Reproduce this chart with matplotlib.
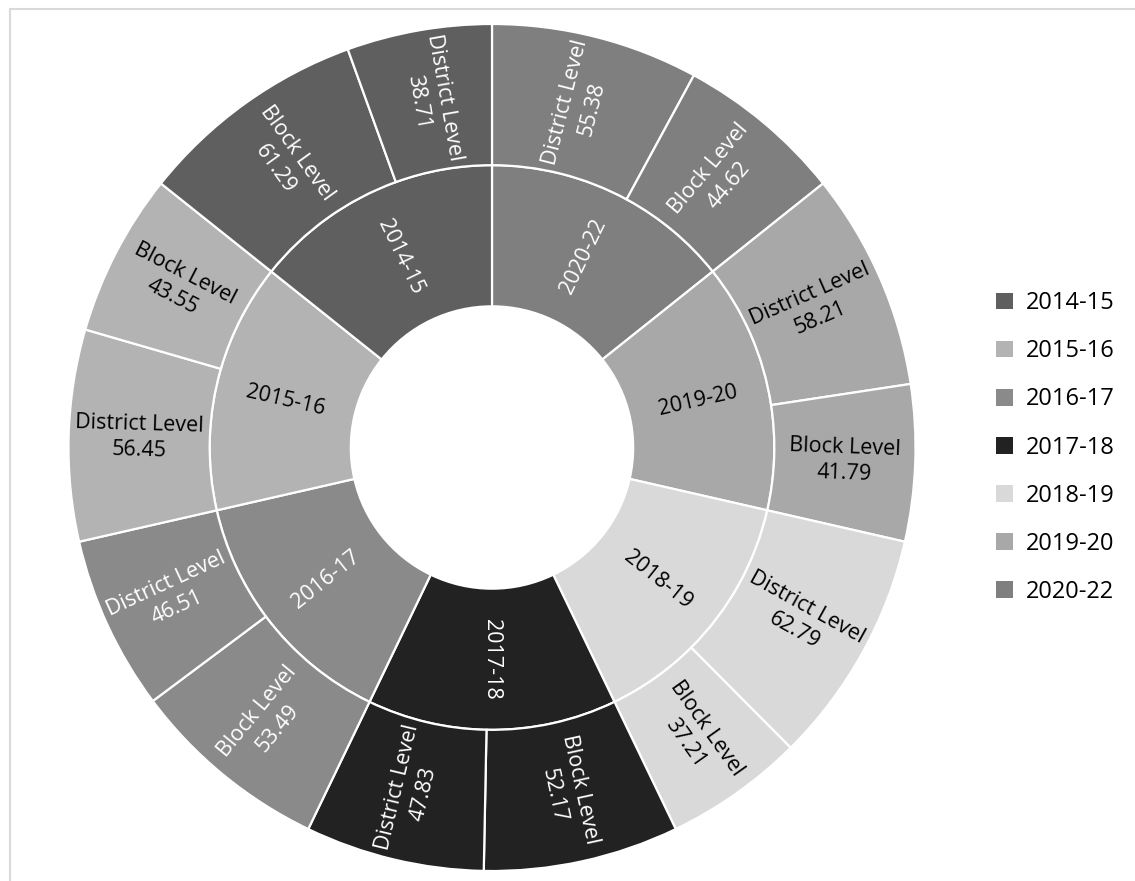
import numpy as np
import matplotlib
matplotlib.use("Agg")
import matplotlib.pyplot as plt
from matplotlib.patches import Patch, Rectangle

plt.rcParams["font.family"] = ["Open Sans", "DejaVu Sans"]

# data
years = ["2014-15", "2015-16", "2016-17", "2017-18", "2018-19", "2019-20", "2020-22"]
block_level = [61.29, 43.55, 53.49, 52.17, 37.21, 41.79, 44.62]
district_level = [38.71, 56.45, 46.51, 47.83, 62.79, 58.21, 55.38]
year_colors = ["#5f5f5f", "#b3b3b3", "#8a8a8a", "#222222", "#d9d9d9", "#a8a8a8", "#7f7f7f"]
text_colors = ["white", "black", "white", "white", "black", "black", "white"]


def text_rotation(angle):
    angle = angle % 360
    if 90 < angle < 270:
        return angle - 180
    if angle >= 270:
        return angle - 360
    return angle


W, H = 1135, 881
fig = plt.figure(figsize=(W / 100, H / 100), dpi=100)

# pie axes: centre (492, 447.5) px, outer radius 423.5 px
R = 423.5
ax = fig.add_axes([(492 - R) / W, (H - 447.5 - R) / H, 2 * R / W, 2 * R / H])

# sunburst drawn clockwise from 12 o'clock, last year first
order = list(range(len(years)))[::-1]
inner_vals = [block_level[i] + district_level[i] for i in order]
inner_cols = [year_colors[i] for i in order]

outer_vals, outer_cols, outer_labels, outer_tc = [], [], [], []
for i in order:
    kids = [("Block Level", block_level[i]), ("District Level", district_level[i])]
    kids.sort(key=lambda k: -k[1])
    for name, v in kids:
        outer_vals.append(v)
        outer_cols.append(year_colors[i])
        outer_labels.append(f"{name}\n{v:.2f}")
        outer_tc.append(text_colors[i])

wp = dict(width=1 / 3, edgecolor="white", linewidth=1.6)
inner_wedges, _ = ax.pie(inner_vals, radius=2 / 3, colors=inner_cols, startangle=90,
                         counterclock=False, wedgeprops=wp)
outer_wedges, _ = ax.pie(outer_vals, radius=1, colors=outer_cols, startangle=90,
                         counterclock=False, wedgeprops=wp)

for w, i in zip(inner_wedges, order):
    mid = (w.theta1 + w.theta2) / 2
    x, y = 0.5 * np.cos(np.radians(mid)), 0.5 * np.sin(np.radians(mid))
    ax.text(x, y, years[i], ha="center", va="center", fontsize=15.5,
            color=text_colors[i], rotation=text_rotation(mid), rotation_mode="anchor")

for w, lab, tc in zip(outer_wedges, outer_labels, outer_tc):
    mid = (w.theta1 + w.theta2) / 2
    x, y = (5 / 6) * np.cos(np.radians(mid)), (5 / 6) * np.sin(np.radians(mid))
    ax.text(x, y, lab, ha="center", va="center", fontsize=15.5, color=tc,
            linespacing=1.35, multialignment="center",
            rotation=text_rotation(mid), rotation_mode="anchor")

ax.set_xlim(-1, 1)
ax.set_ylim(-1, 1)
ax.set_aspect("equal")
ax.axis("off")

handles = [Patch(facecolor=c, edgecolor="none") for c in year_colors]
fig.legend(handles, years, loc="center left", bbox_to_anchor=(996 / W, 1 - 447.5 / H),
           frameon=False, fontsize=17, handlelength=0.72, handleheight=0.72,
           handletextpad=0.55, labelspacing=1.02, borderpad=0, borderaxespad=0)

# chart area border (only top and left edges fall inside the picture)
fig.patches.append(Rectangle((10 / W, -0.1), 1.2, 1.1 - 8.5 / H, transform=fig.transFigure,
                             fill=False, edgecolor="#d9d9d9", linewidth=1.5))

fig.savefig("out.png", dpi=100)
